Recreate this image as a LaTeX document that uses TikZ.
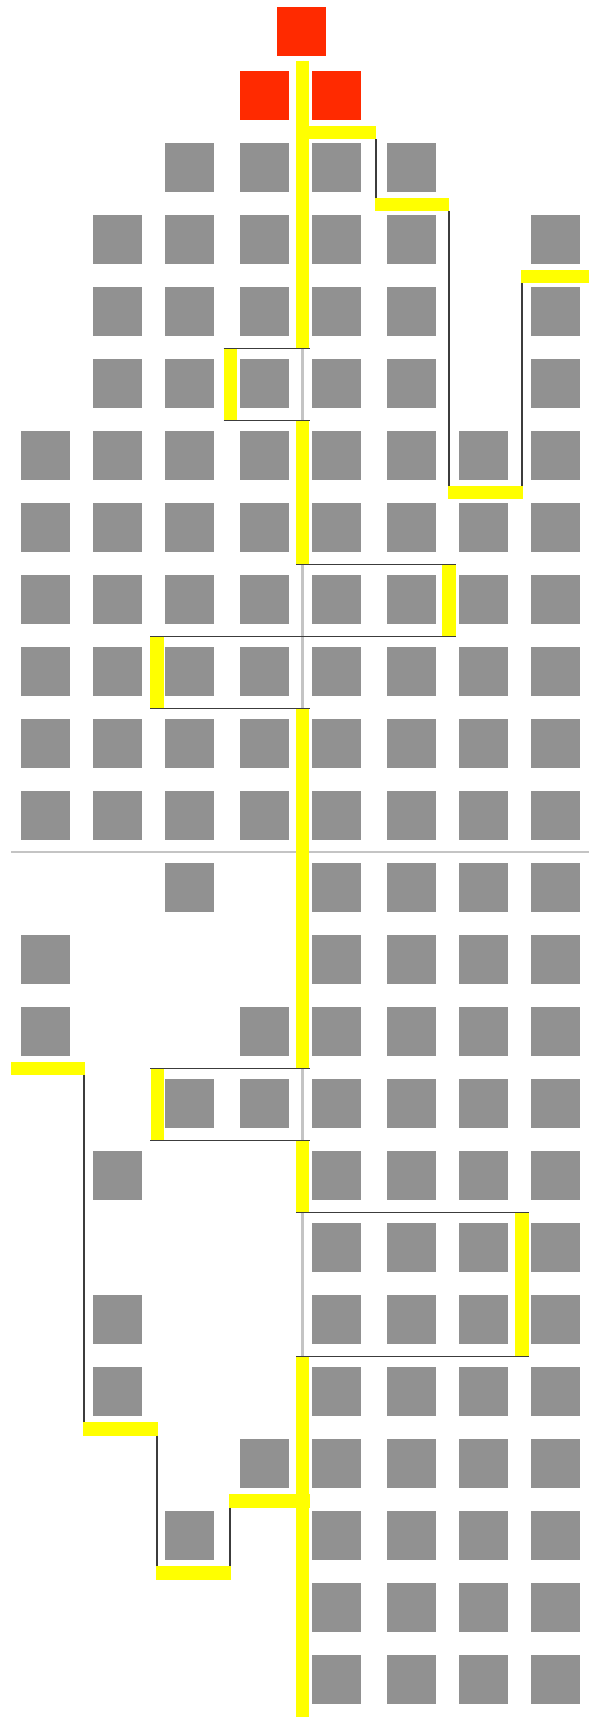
\documentclass[tikz,border=0pt]{standalone}
\usepackage{xcolor}
\usepackage{tikz}
\usetikzlibrary{positioning,calc}
\definecolor{cellgray}{RGB}{145,145,145}
\definecolor{seedred}{RGB}{255,42,0}
\definecolor{traceyellow}{RGB}{255,255,0}
\definecolor{linkgray}{RGB}{60,60,60}
\definecolor{axisgray}{RGB}{196,196,196}
\tikzset{
  cell/.style={fill=cellgray},
  seed/.style={fill=seedred},
  trace/.style={line width=1.34mm,draw=traceyellow},
  link/.style={line width=0.5pt,draw=linkgray},
  axisline/.style={line width=0.65pt,draw=axisgray}
}

\begin{document}
\begin{tikzpicture}[x=1cm,y=-1cm]
\useasboundingbox (0,0) rectangle (5.89,17.20);

\draw[axisline] (0.113,8.52)--(5.89,8.52);
\draw[axisline] (3.025,0.607)--(3.025,17.167);

\fill[seed] (2.77,0.07) rectangle ++(0.49,0.49);
\fill[seed] (2.40,0.71) rectangle ++(0.49,0.49);
\fill[seed] (3.12,0.71) rectangle ++(0.49,0.49);

\foreach \r/\cs in {2/{2,3,4,5},3/{1,2,3,4,5,7},4/{1,2,3,4,5,7},5/{1,2,3,4,5,7},
    6/{0,1,2,3,4,5,6,7},7/{0,1,2,3,4,5,6,7},8/{0,1,2,3,4,5,6,7},9/{0,1,2,3,4,5,6,7},
    10/{0,1,2,3,4,5,6,7},11/{0,1,2,3,4,5,6,7},12/{2,4,5,6,7},13/{0,4,5,6,7},
    14/{0,3,4,5,6,7},15/{2,3,4,5,6,7},16/{1,4,5,6,7},17/{4,5,6,7},18/{1,4,5,6,7},
    19/{1,4,5,6,7},20/{3,4,5,6,7},21/{2,4,5,6,7},22/{4,5,6,7},23/{4,5,6,7}}{
  \foreach \c in \cs {
    \pgfmathsetmacro\cx{{0.21,0.93,1.65,2.40,3.12,3.87,4.59,5.31}[\c]}
    \pgfmathsetmacro\cy{0.71+0.72*(\r-1)}
    \fill[cell] (\cx,\cy) rectangle ++(0.49,0.49);
  }
}

% main trace
\draw[trace] (3.027,0.607)--(3.027,3.485);
\draw[trace] (3.027,4.205)--(3.027,5.645);
\draw[trace] (3.027,7.085)--(3.027,10.685);
\draw[trace] (3.027,11.405)--(3.027,12.125);
\draw[trace] (3.027,13.565)--(3.027,17.167);

\draw[trace] (2.302,3.485)--(2.302,4.205);
\draw[trace] (4.490,5.645)--(4.490,6.365);
\draw[trace] (1.569,6.365)--(1.569,7.085);
\draw[trace] (1.572,10.685)--(1.572,11.405);
\draw[trace] (5.220,12.125)--(5.220,13.565);

\draw[link] (2.235,3.485)--(3.095,3.485);
\draw[link] (2.235,4.205)--(3.095,4.205);
\draw[link] (2.960,5.645)--(4.557,5.645);
\draw[link] (1.500,6.365)--(4.557,6.365);
\draw[link] (1.500,7.085)--(3.095,7.085);
\draw[link] (1.503,10.685)--(3.095,10.685);
\draw[link] (1.503,11.405)--(3.095,11.405);
\draw[link] (2.960,12.125)--(5.286,12.125);
\draw[link] (2.960,13.565)--(5.286,13.565);

% right branch
\draw[trace] (2.960,1.326)--(3.763,1.326);
\draw[trace] (3.750,2.045)--(4.493,2.045);
\draw[trace] (4.480,4.923)--(5.227,4.923);
\draw[trace] (5.210,2.767)--(5.890,2.767);
\draw[link] (3.757,1.393)--(3.757,1.978);
\draw[link] (4.487,2.112)--(4.487,4.857);
\draw[link] (5.217,2.834)--(5.217,4.857);

% left branch
\draw[trace] (2.293,15.010)--(3.097,15.010);
\draw[trace] (1.563,15.730)--(2.310,15.730);
\draw[trace] (0.833,14.290)--(1.577,14.290);
\draw[trace] (0.113,10.687)--(0.845,10.687);
\draw[link] (2.300,15.077)--(2.300,15.663);
\draw[link] (1.570,14.357)--(1.570,15.663);
\draw[link] (0.837,10.754)--(0.837,14.223);
\end{tikzpicture}
\end{document}
